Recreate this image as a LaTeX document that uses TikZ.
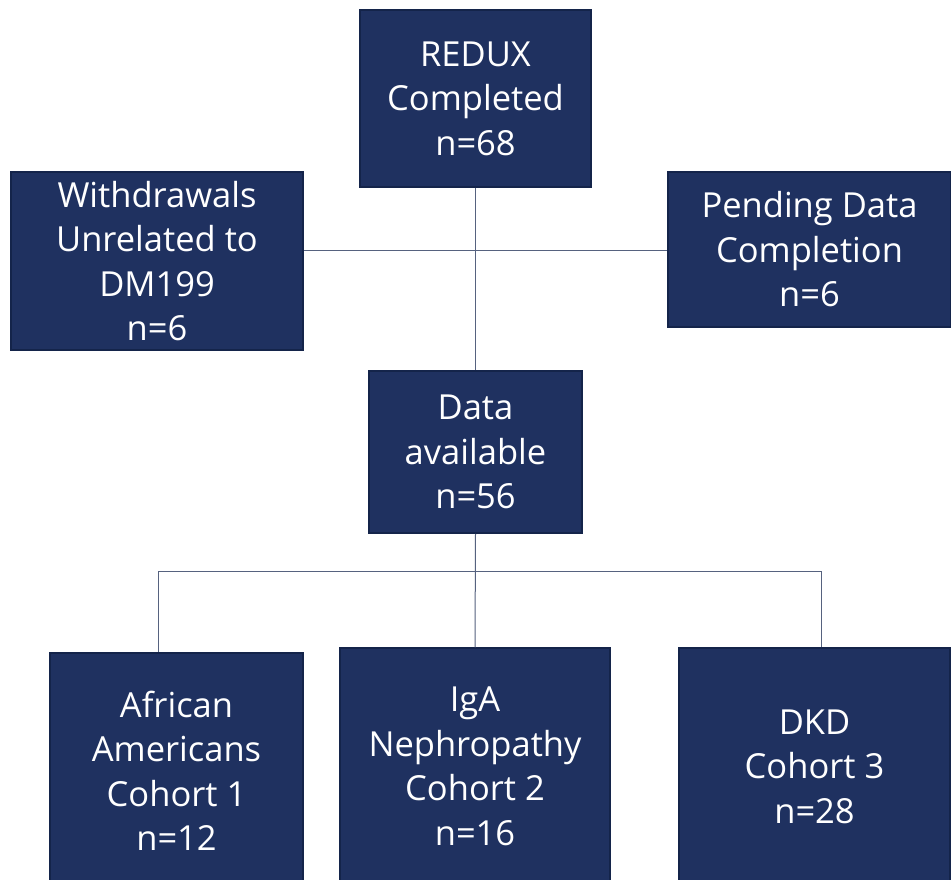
\documentclass[tikz,border=0pt]{standalone}
\usepackage{fontspec}
\setmainfont{Open Sans}
\usetikzlibrary{positioning,calc}
\definecolor{azul}{HTML}{1F3160}
\definecolor{borde}{HTML}{14244A}
\definecolor{linea}{HTML}{56627F}
\begin{document}
\begin{tikzpicture}[
    x=1pt, y=-1pt,
    font=\fontsize{34.5}{44.5}\selectfont,
    caja/.style={
      draw=borde, line width=1.5pt, fill=azul, text=white, align=center,
      inner sep=0pt
    },
    conn/.style={draw=linea, line width=1pt}
  ]
    \useasboundingbox[fill=white] (0,0) rectangle (951,880);
    \node[caja, minimum width=231pt, minimum height=177pt] (redux) at (475.5,98.5)
      {REDUX\\Completed\\n=68};
    \node[caja, minimum width=292pt, minimum height=178pt] (retiros) at (157,261)
      {Withdrawals\\Unrelated to\\DM199\\n=6};
    \node[caja, minimum width=283pt, minimum height=155pt] (pendiente) at (809.5,249.5)
      {Pending Data\\Completion\\n=6};
    \node[caja, minimum width=213pt, minimum height=162pt] (datos) at (475.5,452)
      {Data\\available\\n=56};
    \node[caja, minimum width=253pt, minimum height=236pt] (afro) at (176.5,771)
      {African\\Americans\\Cohort 1\\n=12};
    \node[caja, minimum width=270pt, minimum height=237pt] (iga) at (475,766.5)
      {IgA\\Nephropathy\\Cohort 2\\n=16};
    \node[caja, minimum width=271pt, minimum height=237pt] (dkd) at (814.5,766.5)
      {DKD\\Cohort 3\\n=28};
    % junctions
    \coordinate (cruce) at (475.5,250);
    \coordinate (ramaA) at (158,571);
    \coordinate (ramaC) at (821,571);
    \draw[conn] (redux.south) -- (datos.north);
    \draw[conn] (retiros.east |- cruce) -- (pendiente.west |- cruce);
    \draw[conn] (datos.south) -- (iga.north);
    \draw[conn] (ramaA) -- (ramaC);
    \draw[conn] (ramaA) -- (ramaA |- afro.north);
    \draw[conn] (ramaC) -- (ramaC |- dkd.north);
  \end{tikzpicture}
\end{document}
